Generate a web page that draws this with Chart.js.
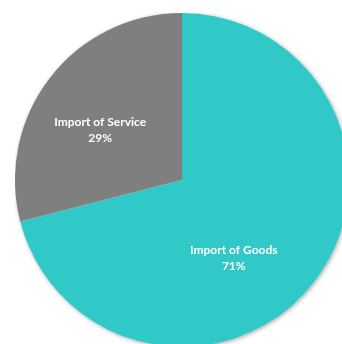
<!DOCTYPE html>
<html>
<head>
<meta charset="utf-8">
<script src="https://cdn.jsdelivr.net/npm/chart.js@4.4.0/dist/chart.umd.min.js"></script>
<style>
  html, body { margin: 0; padding: 0; background: #fff; overflow: hidden; width: 342px; height: 344px; }
  #wrap { position: absolute; left: 15px; top: 13px; width: 334px; height: 334px; }
</style>
</head>
<body>
<div id="wrap"><canvas id="pie"></canvas></div>
<script>
const categories = ['Import of Goods', 'Import of Service'];
const shares = [71, 29];
const sliceColors = ['#30C9C8', '#7F7F7F'];

// label anchors relative to the pie centre, in units of the radius
const labelOffsets = [[0.31, 0.47], [-0.49, -0.30]];

const pieShadow = {
  id: 'pieShadow',
  beforeDatasetsDraw(chart) {
    const arc = chart.getDatasetMeta(0).data[0];
    if (!arc) return;
    const ctx = chart.ctx;
    ctx.save();
    ctx.shadowColor = 'rgba(0,0,0,0.35)';
    ctx.shadowBlur = 4;
    ctx.shadowOffsetX = 1;
    ctx.shadowOffsetY = 1;
    ctx.fillStyle = '#fff';
    ctx.beginPath();
    ctx.arc(arc.x, arc.y, arc.outerRadius, 0, Math.PI * 2);
    ctx.fill();
    ctx.restore();
  }
};

const sliceLabels = {
  id: 'sliceLabels',
  afterDatasetsDraw(chart) {
    const ctx = chart.ctx;
    const meta = chart.getDatasetMeta(0);
    ctx.save();
    ctx.fillStyle = '#fff';
    ctx.font = 'bold 12px Lato, "Open Sans", sans-serif';
    ctx.textAlign = 'center';
    ctx.textBaseline = 'middle';
    meta.data.forEach((arc, i) => {
      const r = arc.outerRadius;
      const x = arc.x + labelOffsets[i][0] * r;
      const y = arc.y + labelOffsets[i][1] * r;
      ctx.fillText(categories[i], x, y - 8);
      ctx.fillText(shares[i] + '%', x, y + 8);
    });
    ctx.restore();
  }
};

new Chart(document.getElementById('pie'), {
  type: 'pie',
  data: {
    labels: categories,
    datasets: [{
      data: shares,
      backgroundColor: sliceColors,
      borderWidth: 0
    }]
  },
  options: {
    responsive: true,
    maintainAspectRatio: false,
    animation: false,
    layout: { padding: 0 },
    plugins: {
      legend: { display: false },
      tooltip: { enabled: false }
    }
  },
  plugins: [pieShadow, sliceLabels]
});
</script>
</body>
</html>
